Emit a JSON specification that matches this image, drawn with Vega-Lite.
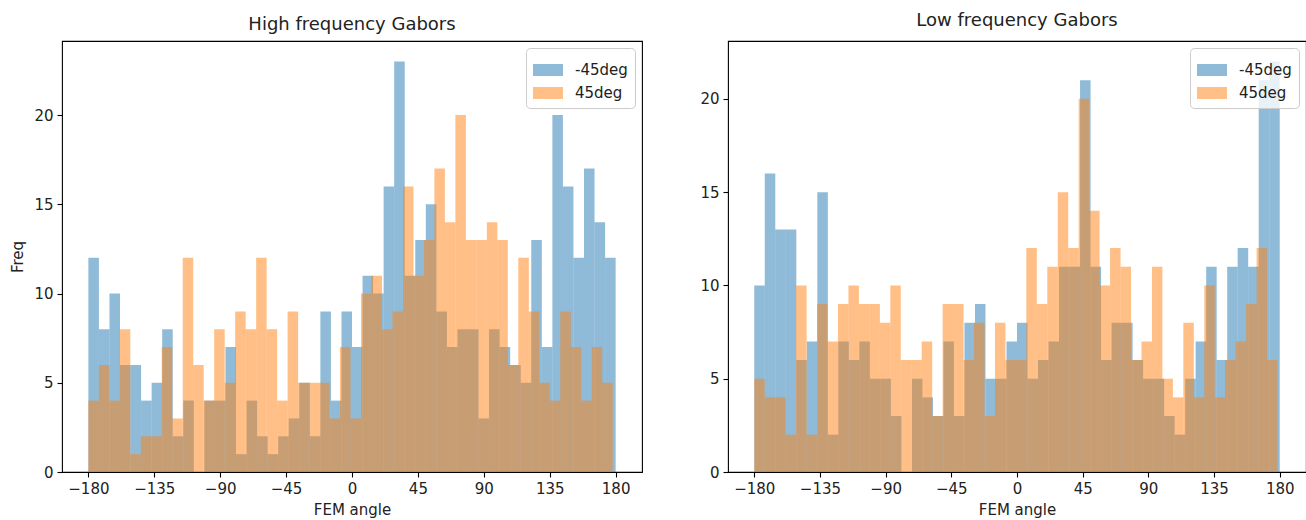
{
  "$schema": "https://vega.github.io/schema/vega-lite/v6.json",
  "background": "white",
  "padding": {"left": 10, "top": 11, "right": 0, "bottom": 0},
  "spacing": 56,
  "config": {
    "font": "DejaVu Sans",
    "view": {"stroke": "#000", "strokeWidth": 1.1},
    "axis": {"domain": false, "grid": false, "tickColor": "#000", "tickSize": 5, "tickWidth": 1.1, "labelFont": "DejaVu Sans", "labelFontSize": 15, "labelColor": "#222", "labelPadding": 4, "titleFont": "DejaVu Sans", "titleFontSize": 15, "titleFontWeight": "normal", "titleColor": "#222"},
    "legend": {"orient": "top-right", "offset": 7, "symbolType": "M-1,-0.4H1V0.4H-1Z", "symbolSize": 900, "symbolOpacity": 0.5, "symbolStrokeWidth": 0, "labelFont": "DejaVu Sans", "labelFontSize": 15, "labelColor": "#222", "labelOffset": 12, "padding": 7, "rowPadding": 0, "strokeColor": "#cccccc", "fillColor": "rgba(255,255,255,0.8)", "cornerRadius": 4}
  },
  "datasets": {
    "high": [
      {"s":"-45deg","a":-180,"b":-172.8,"n":12},
      {"s":"-45deg","a":-172.8,"b":-165.6,"n":8},
      {"s":"-45deg","a":-165.6,"b":-158.4,"n":10},
      {"s":"-45deg","a":-158.4,"b":-151.2,"n":6},
      {"s":"-45deg","a":-151.2,"b":-144,"n":6},
      {"s":"-45deg","a":-144,"b":-136.8,"n":4},
      {"s":"-45deg","a":-136.8,"b":-129.6,"n":5},
      {"s":"-45deg","a":-129.6,"b":-122.4,"n":8},
      {"s":"-45deg","a":-122.4,"b":-115.2,"n":2},
      {"s":"-45deg","a":-115.2,"b":-108,"n":4},
      {"s":"-45deg","a":-108,"b":-100.8,"n":0},
      {"s":"-45deg","a":-100.8,"b":-93.6,"n":4},
      {"s":"-45deg","a":-93.6,"b":-86.4,"n":4},
      {"s":"-45deg","a":-86.4,"b":-79.2,"n":7},
      {"s":"-45deg","a":-79.2,"b":-72,"n":1},
      {"s":"-45deg","a":-72,"b":-64.8,"n":4},
      {"s":"-45deg","a":-64.8,"b":-57.6,"n":2},
      {"s":"-45deg","a":-57.6,"b":-50.4,"n":1},
      {"s":"-45deg","a":-50.4,"b":-43.2,"n":2},
      {"s":"-45deg","a":-43.2,"b":-36,"n":3},
      {"s":"-45deg","a":-36,"b":-28.8,"n":5},
      {"s":"-45deg","a":-28.8,"b":-21.6,"n":2},
      {"s":"-45deg","a":-21.6,"b":-14.4,"n":9},
      {"s":"-45deg","a":-14.4,"b":-7.2,"n":4},
      {"s":"-45deg","a":-7.2,"b":0,"n":9},
      {"s":"-45deg","a":0,"b":7.2,"n":7},
      {"s":"-45deg","a":7.2,"b":14.4,"n":11},
      {"s":"-45deg","a":14.4,"b":21.6,"n":10},
      {"s":"-45deg","a":21.6,"b":28.8,"n":16},
      {"s":"-45deg","a":28.8,"b":36,"n":23},
      {"s":"-45deg","a":36,"b":43.2,"n":11},
      {"s":"-45deg","a":43.2,"b":50.4,"n":13},
      {"s":"-45deg","a":50.4,"b":57.6,"n":15},
      {"s":"-45deg","a":57.6,"b":64.8,"n":9},
      {"s":"-45deg","a":64.8,"b":72,"n":7},
      {"s":"-45deg","a":72,"b":79.2,"n":8},
      {"s":"-45deg","a":79.2,"b":86.4,"n":8},
      {"s":"-45deg","a":86.4,"b":93.6,"n":3},
      {"s":"-45deg","a":93.6,"b":100.8,"n":8},
      {"s":"-45deg","a":100.8,"b":108,"n":7},
      {"s":"-45deg","a":108,"b":115.2,"n":6},
      {"s":"-45deg","a":115.2,"b":122.4,"n":5},
      {"s":"-45deg","a":122.4,"b":129.6,"n":13},
      {"s":"-45deg","a":129.6,"b":136.8,"n":7},
      {"s":"-45deg","a":136.8,"b":144,"n":20},
      {"s":"-45deg","a":144,"b":151.2,"n":16},
      {"s":"-45deg","a":151.2,"b":158.4,"n":12},
      {"s":"-45deg","a":158.4,"b":165.6,"n":17},
      {"s":"-45deg","a":165.6,"b":172.8,"n":14},
      {"s":"-45deg","a":172.8,"b":180,"n":12},
      {"s":"45deg","a":-180,"b":-172.84,"n":4},
      {"s":"45deg","a":-172.84,"b":-165.68,"n":6},
      {"s":"45deg","a":-165.68,"b":-158.52,"n":4},
      {"s":"45deg","a":-158.52,"b":-151.36,"n":8},
      {"s":"45deg","a":-151.36,"b":-144.2,"n":1},
      {"s":"45deg","a":-144.2,"b":-137.04,"n":2},
      {"s":"45deg","a":-137.04,"b":-129.88,"n":2},
      {"s":"45deg","a":-129.88,"b":-122.72,"n":7},
      {"s":"45deg","a":-122.72,"b":-115.56,"n":3},
      {"s":"45deg","a":-115.56,"b":-108.4,"n":12},
      {"s":"45deg","a":-108.4,"b":-101.24,"n":6},
      {"s":"45deg","a":-101.24,"b":-94.08,"n":4},
      {"s":"45deg","a":-94.08,"b":-86.92,"n":8},
      {"s":"45deg","a":-86.92,"b":-79.76,"n":5},
      {"s":"45deg","a":-79.76,"b":-72.6,"n":9},
      {"s":"45deg","a":-72.6,"b":-65.44,"n":8},
      {"s":"45deg","a":-65.44,"b":-58.28,"n":12},
      {"s":"45deg","a":-58.28,"b":-51.12,"n":8},
      {"s":"45deg","a":-51.12,"b":-43.96,"n":4},
      {"s":"45deg","a":-43.96,"b":-36.8,"n":9},
      {"s":"45deg","a":-36.8,"b":-29.64,"n":5},
      {"s":"45deg","a":-29.64,"b":-22.48,"n":5},
      {"s":"45deg","a":-22.48,"b":-15.32,"n":5},
      {"s":"45deg","a":-15.32,"b":-8.16,"n":3},
      {"s":"45deg","a":-8.16,"b":-1,"n":7},
      {"s":"45deg","a":-1,"b":6.16,"n":3},
      {"s":"45deg","a":6.16,"b":13.32,"n":10},
      {"s":"45deg","a":13.32,"b":20.48,"n":11},
      {"s":"45deg","a":20.48,"b":27.64,"n":8},
      {"s":"45deg","a":27.64,"b":34.8,"n":9},
      {"s":"45deg","a":34.8,"b":41.96,"n":16},
      {"s":"45deg","a":41.96,"b":49.12,"n":11},
      {"s":"45deg","a":49.12,"b":56.28,"n":13},
      {"s":"45deg","a":56.28,"b":63.44,"n":17},
      {"s":"45deg","a":63.44,"b":70.6,"n":14},
      {"s":"45deg","a":70.6,"b":77.76,"n":20},
      {"s":"45deg","a":77.76,"b":84.92,"n":13},
      {"s":"45deg","a":84.92,"b":92.08,"n":13},
      {"s":"45deg","a":92.08,"b":99.24,"n":14},
      {"s":"45deg","a":99.24,"b":106.4,"n":13},
      {"s":"45deg","a":106.4,"b":113.56,"n":6},
      {"s":"45deg","a":113.56,"b":120.72,"n":12},
      {"s":"45deg","a":120.72,"b":127.88,"n":9},
      {"s":"45deg","a":127.88,"b":135.04,"n":5},
      {"s":"45deg","a":135.04,"b":142.2,"n":4},
      {"s":"45deg","a":142.2,"b":149.36,"n":9},
      {"s":"45deg","a":149.36,"b":156.52,"n":7},
      {"s":"45deg","a":156.52,"b":163.68,"n":4},
      {"s":"45deg","a":163.68,"b":170.84,"n":7},
      {"s":"45deg","a":170.84,"b":178,"n":5}
    ],
    "low": [
      {"s":"-45deg","a":-180,"b":-172.8,"n":10},
      {"s":"-45deg","a":-172.8,"b":-165.6,"n":16},
      {"s":"-45deg","a":-165.6,"b":-158.4,"n":13},
      {"s":"-45deg","a":-158.4,"b":-151.2,"n":13},
      {"s":"-45deg","a":-151.2,"b":-144,"n":6},
      {"s":"-45deg","a":-144,"b":-136.8,"n":7},
      {"s":"-45deg","a":-136.8,"b":-129.6,"n":15},
      {"s":"-45deg","a":-129.6,"b":-122.4,"n":2},
      {"s":"-45deg","a":-122.4,"b":-115.2,"n":7},
      {"s":"-45deg","a":-115.2,"b":-108,"n":6},
      {"s":"-45deg","a":-108,"b":-100.8,"n":7},
      {"s":"-45deg","a":-100.8,"b":-93.6,"n":5},
      {"s":"-45deg","a":-93.6,"b":-86.4,"n":5},
      {"s":"-45deg","a":-86.4,"b":-79.2,"n":3},
      {"s":"-45deg","a":-79.2,"b":-72,"n":0},
      {"s":"-45deg","a":-72,"b":-64.8,"n":5},
      {"s":"-45deg","a":-64.8,"b":-57.6,"n":4},
      {"s":"-45deg","a":-57.6,"b":-50.4,"n":3},
      {"s":"-45deg","a":-50.4,"b":-43.2,"n":7},
      {"s":"-45deg","a":-43.2,"b":-36,"n":3},
      {"s":"-45deg","a":-36,"b":-28.8,"n":8},
      {"s":"-45deg","a":-28.8,"b":-21.6,"n":9},
      {"s":"-45deg","a":-21.6,"b":-14.4,"n":5},
      {"s":"-45deg","a":-14.4,"b":-7.2,"n":5},
      {"s":"-45deg","a":-7.2,"b":0,"n":7},
      {"s":"-45deg","a":0,"b":7.2,"n":8},
      {"s":"-45deg","a":7.2,"b":14.4,"n":5},
      {"s":"-45deg","a":14.4,"b":21.6,"n":6},
      {"s":"-45deg","a":21.6,"b":28.8,"n":7},
      {"s":"-45deg","a":28.8,"b":36,"n":11},
      {"s":"-45deg","a":36,"b":43.2,"n":11},
      {"s":"-45deg","a":43.2,"b":50.4,"n":21},
      {"s":"-45deg","a":50.4,"b":57.6,"n":11},
      {"s":"-45deg","a":57.6,"b":64.8,"n":6},
      {"s":"-45deg","a":64.8,"b":72,"n":8},
      {"s":"-45deg","a":72,"b":79.2,"n":8},
      {"s":"-45deg","a":79.2,"b":86.4,"n":6},
      {"s":"-45deg","a":86.4,"b":93.6,"n":5},
      {"s":"-45deg","a":93.6,"b":100.8,"n":5},
      {"s":"-45deg","a":100.8,"b":108,"n":3},
      {"s":"-45deg","a":108,"b":115.2,"n":2},
      {"s":"-45deg","a":115.2,"b":122.4,"n":5},
      {"s":"-45deg","a":122.4,"b":129.6,"n":7},
      {"s":"-45deg","a":129.6,"b":136.8,"n":11},
      {"s":"-45deg","a":136.8,"b":144,"n":6},
      {"s":"-45deg","a":144,"b":151.2,"n":11},
      {"s":"-45deg","a":151.2,"b":158.4,"n":12},
      {"s":"-45deg","a":158.4,"b":165.6,"n":11},
      {"s":"-45deg","a":165.6,"b":172.8,"n":21},
      {"s":"-45deg","a":172.8,"b":180,"n":22},
      {"s":"45deg","a":-180,"b":-172.83,"n":5},
      {"s":"45deg","a":-172.83,"b":-165.66,"n":4},
      {"s":"45deg","a":-165.66,"b":-158.49,"n":4},
      {"s":"45deg","a":-158.49,"b":-151.32,"n":2},
      {"s":"45deg","a":-151.32,"b":-144.15,"n":10},
      {"s":"45deg","a":-144.15,"b":-136.98,"n":2},
      {"s":"45deg","a":-136.98,"b":-129.81,"n":9},
      {"s":"45deg","a":-129.81,"b":-122.64,"n":7},
      {"s":"45deg","a":-122.64,"b":-115.47,"n":9},
      {"s":"45deg","a":-115.47,"b":-108.3,"n":10},
      {"s":"45deg","a":-108.3,"b":-101.13,"n":9},
      {"s":"45deg","a":-101.13,"b":-93.96,"n":9},
      {"s":"45deg","a":-93.96,"b":-86.79,"n":8},
      {"s":"45deg","a":-86.79,"b":-79.62,"n":10},
      {"s":"45deg","a":-79.62,"b":-72.45,"n":6},
      {"s":"45deg","a":-72.45,"b":-65.28,"n":6},
      {"s":"45deg","a":-65.28,"b":-58.11,"n":7},
      {"s":"45deg","a":-58.11,"b":-50.94,"n":3},
      {"s":"45deg","a":-50.94,"b":-43.77,"n":9},
      {"s":"45deg","a":-43.77,"b":-36.6,"n":9},
      {"s":"45deg","a":-36.6,"b":-29.43,"n":6},
      {"s":"45deg","a":-29.43,"b":-22.26,"n":8},
      {"s":"45deg","a":-22.26,"b":-15.09,"n":3},
      {"s":"45deg","a":-15.09,"b":-7.92,"n":8},
      {"s":"45deg","a":-7.92,"b":-0.75,"n":6},
      {"s":"45deg","a":-0.75,"b":6.42,"n":6},
      {"s":"45deg","a":6.42,"b":13.59,"n":12},
      {"s":"45deg","a":13.59,"b":20.76,"n":9},
      {"s":"45deg","a":20.76,"b":27.93,"n":11},
      {"s":"45deg","a":27.93,"b":35.1,"n":15},
      {"s":"45deg","a":35.1,"b":42.27,"n":12},
      {"s":"45deg","a":42.27,"b":49.44,"n":20},
      {"s":"45deg","a":49.44,"b":56.61,"n":14},
      {"s":"45deg","a":56.61,"b":63.78,"n":10},
      {"s":"45deg","a":63.78,"b":70.95,"n":12},
      {"s":"45deg","a":70.95,"b":78.12,"n":11},
      {"s":"45deg","a":78.12,"b":85.29,"n":6},
      {"s":"45deg","a":85.29,"b":92.46,"n":7},
      {"s":"45deg","a":92.46,"b":99.63,"n":11},
      {"s":"45deg","a":99.63,"b":106.8,"n":5},
      {"s":"45deg","a":106.8,"b":113.97,"n":4},
      {"s":"45deg","a":113.97,"b":121.14,"n":8},
      {"s":"45deg","a":121.14,"b":128.31,"n":4},
      {"s":"45deg","a":128.31,"b":135.48,"n":10},
      {"s":"45deg","a":135.48,"b":142.65,"n":4},
      {"s":"45deg","a":142.65,"b":149.82,"n":6},
      {"s":"45deg","a":149.82,"b":156.99,"n":7},
      {"s":"45deg","a":156.99,"b":164.16,"n":9},
      {"s":"45deg","a":164.16,"b":171.33,"n":12},
      {"s":"45deg","a":171.33,"b":178.5,"n":6}
    ]
  },
  "hconcat": [
    {
      "width": 580,
      "height": 431,
      "data": {"name": "high"},
      "title": {"text": "High frequency Gabors", "fontSize": 18, "fontWeight": "normal", "font": "DejaVu Sans", "color": "#222", "offset": 7},
      "mark": {"type": "bar", "opacity": 0.5},
      "encoding": {
        "x": {"field": "a", "type": "quantitative", "scale": {"domain": [-198, 198], "nice": false, "zero": false}, "axis": {"values": [-180, -135, -90, -45, 0, 45, 90, 135, 180], "format": "d", "labelOverlap": false, "labelFlush": false, "titlePadding": 6}, "title": "FEM angle"},
        "x2": {"field": "b"},
        "y": {"field": "n", "type": "quantitative", "stack": null, "scale": {"domain": [0, 24.15], "nice": false}, "axis": {"values": [0, 5, 10, 15, 20], "titlePadding": 8}, "title": "Freq"},
        "y2": {"datum": 0},
        "color": {"field": "s", "type": "nominal", "sort": null, "scale": {"domain": ["-45deg", "45deg"], "range": ["#1f77b4", "#ff7f0e"]}, "legend": {"title": null}}
      }
    },
    {
      "width": 578,
      "height": 431,
      "data": {"name": "low"},
      "title": {"text": "Low frequency Gabors", "fontSize": 18, "fontWeight": "normal", "font": "DejaVu Sans", "color": "#222", "offset": 11},
      "mark": {"type": "bar", "opacity": 0.5},
      "encoding": {
        "x": {"field": "a", "type": "quantitative", "scale": {"domain": [-198, 198], "nice": false, "zero": false}, "axis": {"values": [-180, -135, -90, -45, 0, 45, 90, 135, 180], "format": "d", "labelOverlap": false, "labelFlush": false, "titlePadding": 6}, "title": "FEM angle"},
        "x2": {"field": "b"},
        "y": {"field": "n", "type": "quantitative", "stack": null, "scale": {"domain": [0, 23.1], "nice": false}, "axis": {"values": [0, 5, 10, 15, 20], "title": null}},
        "y2": {"datum": 0},
        "color": {"field": "s", "type": "nominal", "sort": null, "scale": {"domain": ["-45deg", "45deg"], "range": ["#1f77b4", "#ff7f0e"]}, "legend": {"title": null}}
      }
    }
  ],
  "resolve": {"scale": {"x": "independent", "y": "independent", "color": "independent"}, "legend": {"color": "independent"}}
}
